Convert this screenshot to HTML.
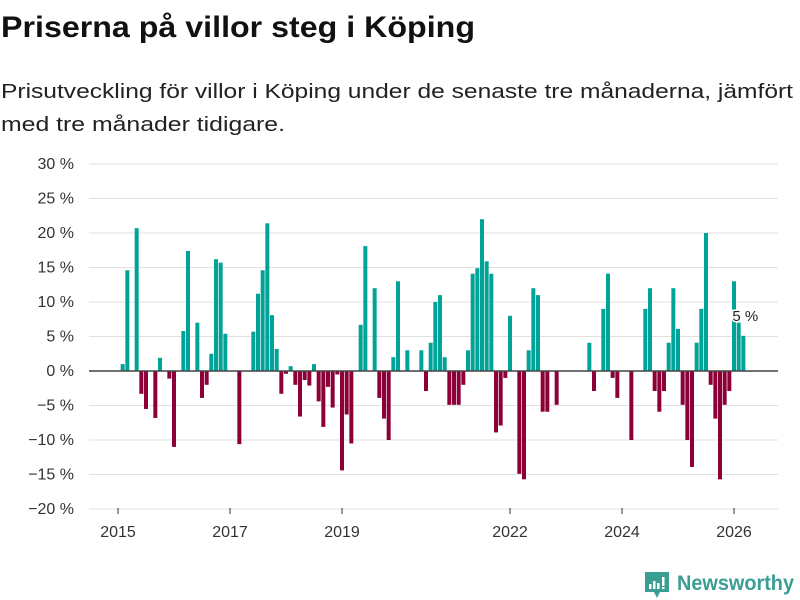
<!DOCTYPE html>
<html><head><meta charset="utf-8"><style>
html,body{margin:0;padding:0;background:#fff;}
svg{display:block;font-family:"Liberation Sans","DejaVu Sans",sans-serif;}
</style></head><body>
<svg id="chart" width="800" height="600" viewBox="0 0 800 600">
<text x="1" y="37" font-size="30" font-weight="bold" fill="#111" textLength="474" lengthAdjust="spacingAndGlyphs">Priserna på villor steg i Köping</text>
<text x="1" y="98" font-size="20" fill="#222" textLength="792" lengthAdjust="spacingAndGlyphs">Prisutveckling för villor i Köping under de senaste tre månaderna, jämfört</text>
<text x="1" y="131" font-size="20" fill="#222" textLength="284" lengthAdjust="spacingAndGlyphs">med tre månader tidigare.</text>
<g id="grid"></g>
<g id="yaxis"></g>
<g id="xaxis"></g>
<g id="bars"></g>
<line x1="89" x2="778" y1="371" y2="371" stroke="#444" stroke-width="1.6"/>
<g id="label"></g>
<g>
<path d="M645 572 h24 v20 h-9 l-3 6 l-3 -6 h-9 z" fill="#3a9e94"/>
<rect x="649" y="584" width="2.5" height="5" fill="#fff"/><rect x="653" y="581" width="2.5" height="8" fill="#fff"/><rect x="657" y="583" width="2.5" height="6" fill="#fff"/><rect x="662" y="577" width="2.5" height="9" fill="#fff"/><rect x="662" y="587" width="2.5" height="2" fill="#fff"/>
<text x="677" y="590" font-size="21" font-weight="bold" fill="#3a9e94" textLength="117" lengthAdjust="spacingAndGlyphs">Newsworthy</text>
</g>
</svg>
<script>
const values = [0,1.0,14.6,0,20.7,-3.3,-5.5,0,-6.8,1.9,0,-1.1,-11.0,0,5.8,17.4,0,7.0,-3.9,-2.0,2.5,16.2,15.7,5.4,0,0,-10.6,0,0,5.7,11.2,14.6,21.4,8.1,3.2,-3.3,-0.4,0.7,-2.0,-6.6,-1.3,-2.1,1.0,-4.4,-8.1,-2.3,-5.3,-0.5,-14.4,-6.3,-10.5,0,6.7,18.1,0,12.0,-3.9,-6.9,-10.0,2.0,13.0,0,3.0,0,0,3.0,-2.9,4.1,10.0,11.0,2.0,-4.9,-4.9,-4.9,-2.0,3.0,14.1,14.9,22.0,15.9,14.1,-8.9,-7.9,-1.0,8.0,0,-14.9,-15.7,3.0,12.0,11.0,-5.9,-5.9,0,-4.9,0,0,0,0,0,0,4.1,-2.9,0,9.0,14.1,-1.0,-3.9,0,0,-10.0,0,0,9.0,12.0,-2.9,-5.9,-2.9,4.1,12.0,6.1,-4.9,-10.0,-13.9,4.1,9.0,20.0,-2.0,-6.9,-15.7,-4.9,-2.9,13.0,7.0,5.1];
const startYear = 2015;
const yTicks = [30,25,20,15,10,5,0,-5,-10,-15,-20];
const yTickLabels = ["30 %","25 %","20 %","15 %","10 %","5 %","0 %","−5 %","−10 %","−15 %","−20 %"];
const xTickYears = [2015,2017,2019,2022,2024,2026];
const lastLabel = "5 %";

const NS = "http://www.w3.org/2000/svg";
const y = v => 371 - v * 6.9;
const xMonth = m => 118 + m * 56 / 12;
function mk(tag, attrs, parent){const e=document.createElementNS(NS,tag);for(const k in attrs)e.setAttribute(k,attrs[k]);parent.appendChild(e);return e;}
const grid=document.getElementById('grid'), yax=document.getElementById('yaxis'), xax=document.getElementById('xaxis'), bars=document.getElementById('bars'), lab=document.getElementById('label');
yTicks.forEach((t,i)=>{
  const l=mk('line',{x1:89,x2:778,y1:y(t),y2:y(t),stroke:'#e0e0e0','stroke-width':1},grid);
  
  
  const tx=mk('text',{x:74,y:y(t)+5,'font-size':16,fill:'#333','text-anchor':'end'},yax);
  tx.textContent=yTickLabels[i];
  
  
});
xTickYears.forEach(yr=>{
  const x=xMonth((yr-startYear)*12);
  const l=mk('line',{x1:x,x2:x,y1:508,y2:514,stroke:'#333','stroke-width':1},xax);
  
  
  const tx=mk('text',{x:x,y:537,'font-size':16,fill:'#333','text-anchor':'middle'},xax);
  tx.textContent=String(yr);
  
  
});
values.forEach((v,m)=>{
  if(v===0)return;
  const x=xMonth(m);
  const r=mk('rect',{x:x-2,width:4,y:Math.min(y(v),y(0)),height:Math.abs(y(v)-y(0)),fill:v>0?'#00a398':'#8c0037'},bars);
  
  
});
const lm=values.length-1;
const lt=mk('text',{x:xMonth(lm)+2,y:y(values[lm])-15,'font-size':15,fill:'#222','text-anchor':'middle',stroke:'#fff','stroke-width':3,'paint-order':'stroke'},lab);
lt.textContent=lastLabel;


</script>
</body></html>
